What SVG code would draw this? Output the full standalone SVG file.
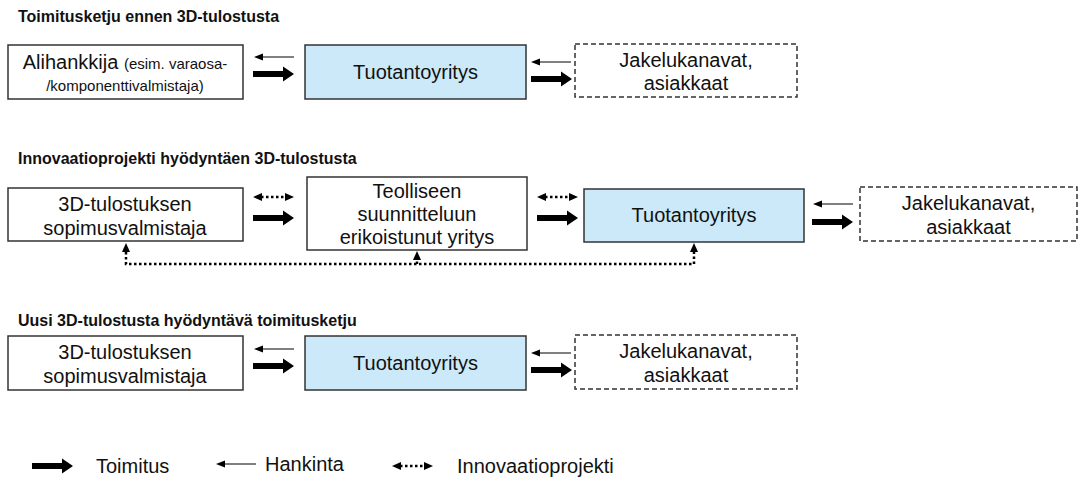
<svg xmlns="http://www.w3.org/2000/svg" width="1089" height="477" viewBox="0 0 1089 477">
<style>
.box{fill:#fff;stroke:#333;stroke-width:1.5}
.blue{fill:#cce9f9;stroke:#333;stroke-width:1.5}
.dash{fill:#fff;stroke:#333;stroke-width:1.5;stroke-dasharray:5 3}
.t{font-family:"Liberation Sans",Arial,sans-serif;font-size:20px;fill:#111;text-anchor:middle}
.s{font-size:15px}
.h{font-family:"Liberation Sans",Arial,sans-serif;font-size:16px;font-weight:bold;fill:#111}
.lg{font-family:"Liberation Sans",Arial,sans-serif;font-size:20px;fill:#111}
.dot{fill:none;stroke:#000;stroke-width:2.5;stroke-dasharray:2.5 2.5}
</style>
<defs>
<path id="thick" d="M0,-3 H30 V-7.5 L41,0 L30,7.5 V3 H0 Z" fill="#000"/>
<g id="thin"><line x1="8" y1="0" x2="40" y2="0" stroke="#000" stroke-width="1"/><path d="M0,0 L9,-3.5 L9,3.5 Z" fill="#000"/></g>
<g id="inno"><line x1="8" y1="0" x2="33" y2="0" class="dot"/><path d="M0,0 L9,-4 L9,4 Z M41,0 L32,-4 L32,4 Z" fill="#000"/></g>
<path id="up" d="M0,0 L-4,9 L4,9 Z" fill="#000"/>
</defs>

<text class="h" x="18" y="22">Toimitusketju ennen 3D-tulostusta</text>
<text class="h" x="18" y="164">Innovaatioprojekti hyödyntäen 3D-tulostusta</text>
<text class="h" x="18" y="326">Uusi 3D-tulostusta hyödyntävä toimitusketju</text>

<g id="s1-alihankkija"><rect class="box" x="8" y="45" width="235" height="54"/>
<text class="t" x="125" y="69">Alihankkija <tspan class="s">(esim. varaosa-</tspan></text>
<text class="t s" x="125" y="91">/komponenttivalmistaja)</text></g>
<g id="s1-tuotanto"><rect class="blue" x="305" y="45" width="221" height="54"/>
<text class="t" x="415.5" y="79">Tuotantoyritys</text></g>
<g id="s1-jakelu"><rect class="dash" x="575" y="44" width="222" height="53"/>
<text class="t" x="686" y="67">Jakelukanavat,</text><text class="t" x="686" y="90">asiakkaat</text></g>

<g id="s2-sopimus"><rect class="box" x="8" y="188" width="235" height="53"/>
<text class="t" x="125" y="211">3D-tulostuksen</text><text class="t" x="125" y="235">sopimusvalmistaja</text></g>
<g id="s2-teollinen"><rect class="box" x="307" y="177" width="220" height="73"/>
<text class="t" x="417" y="198">Teolliseen</text><text class="t" x="417" y="221">suunnitteluun</text><text class="t" x="417" y="244">erikoistunut yritys</text></g>
<g id="s2-tuotanto"><rect class="blue" x="584" y="189" width="220" height="53"/>
<text class="t" x="694" y="222">Tuotantoyritys</text></g>
<g id="s2-jakelu"><rect class="dash" x="860" y="187" width="217" height="54"/>
<text class="t" x="968.5" y="210">Jakelukanavat,</text><text class="t" x="968.5" y="234">asiakkaat</text></g>

<g id="s3-sopimus"><rect class="box" x="8" y="336" width="235" height="54"/>
<text class="t" x="125" y="359">3D-tulostuksen</text><text class="t" x="125" y="383">sopimusvalmistaja</text></g>
<g id="s3-tuotanto"><rect class="blue" x="305" y="336" width="221" height="54"/>
<text class="t" x="415.5" y="370">Tuotantoyritys</text></g>
<g id="s3-jakelu"><rect class="dash" x="575" y="335" width="222" height="54"/>
<text class="t" x="686" y="358">Jakelukanavat,</text><text class="t" x="686" y="382">asiakkaat</text></g>

<g id="connectors">
<use href="#thin" x="254" y="57"/><use href="#thick" x="253" y="74"/>
<use href="#thin" x="531" y="62"/><use href="#thick" x="531" y="79"/>
<use href="#inno" x="253" y="197"/><use href="#thick" x="253" y="218"/>
<use href="#inno" x="537" y="197"/><use href="#thick" x="537" y="218"/>
<use href="#thin" x="813" y="204"/><use href="#thick" x="812" y="222"/>
<path class="dot" d="M126,252 V264 H694 V252 M417,264 V258"/>
<use href="#up" x="126" y="243"/><use href="#up" x="417" y="251"/><use href="#up" x="694" y="243"/>
<use href="#thin" x="254" y="349"/><use href="#thick" x="253" y="366"/>
<use href="#thin" x="531" y="353"/><use href="#thick" x="531" y="370"/>
</g>

<g id="legend">
<use href="#thick" x="32" y="466"/><text class="lg" x="96" y="473">Toimitus</text>
<use href="#thin" x="216" y="464"/><text class="lg" x="265" y="471">Hankinta</text>
<use href="#inno" x="392" y="466"/><text class="lg" x="457" y="473">Innovaatioprojekti</text>
</g>
</svg>
